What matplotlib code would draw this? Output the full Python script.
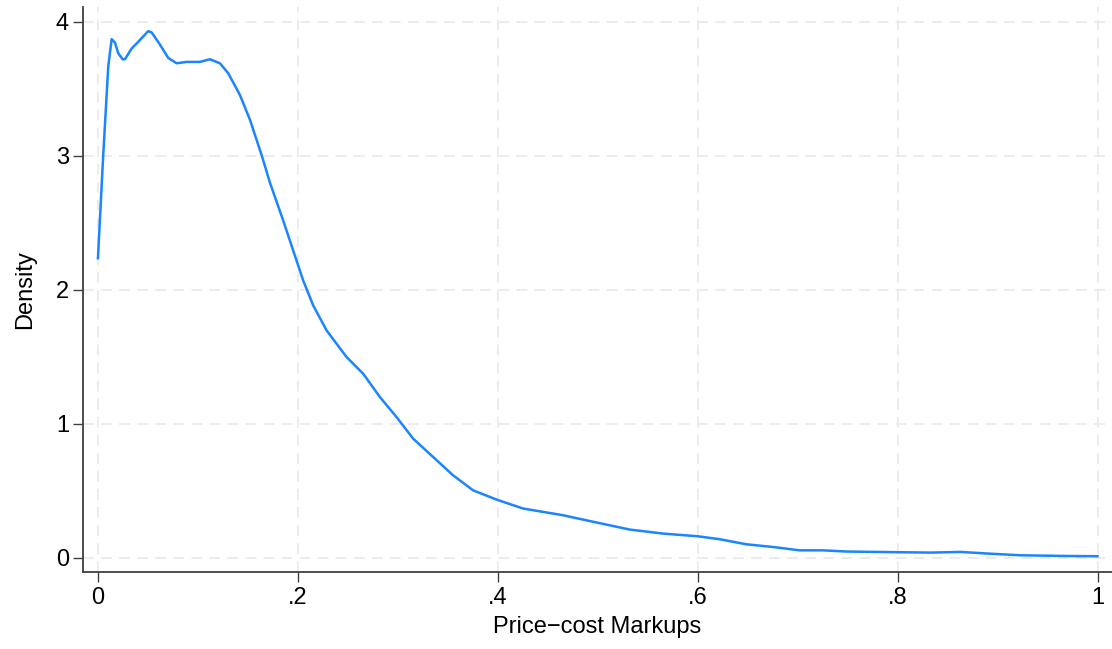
import matplotlib
matplotlib.use("Agg")
import matplotlib.pyplot as plt

# kernel density of price-cost markups
markup = [0.0, 0.005, 0.0103, 0.0137, 0.017, 0.0203, 0.0247, 0.027, 0.0337,
          0.0403, 0.0503, 0.0537, 0.062, 0.0703, 0.0787, 0.0887, 0.102, 0.112,
          0.122, 0.1303, 0.142, 0.152, 0.1637, 0.172, 0.1853, 0.1953, 0.2053,
          0.2153, 0.2287, 0.2487, 0.2653, 0.282, 0.2987, 0.3153, 0.3353,
          0.3553, 0.3753, 0.3987, 0.4253, 0.4653, 0.4887, 0.532, 0.5653, 0.6,
          0.622, 0.6487, 0.6753, 0.702, 0.7253, 0.7487, 0.8, 0.833, 0.863,
          0.89, 0.923, 0.966, 1.0]
density = [2.235, 2.965, 3.665, 3.87, 3.845, 3.765, 3.72, 3.72, 3.80, 3.85,
           3.93, 3.92, 3.83, 3.73, 3.69, 3.70, 3.70, 3.72, 3.69, 3.616, 3.454,
           3.27, 3.006, 2.80, 2.517, 2.293, 2.069, 1.883, 1.696, 1.497, 1.373,
           1.199, 1.049, 0.888, 0.751, 0.614, 0.502, 0.433, 0.366, 0.316,
           0.278, 0.209, 0.179, 0.159, 0.137, 0.099, 0.079, 0.054, 0.054,
           0.045, 0.040, 0.037, 0.042, 0.030, 0.017, 0.012, 0.010]

xticks = [0, 0.2, 0.4, 0.6, 0.8, 1.0]
xtick_labels = ["0", ".2", ".4", ".6", ".8", "1"]
yticks = [0, 1, 2, 3, 4]

plt.rcParams["font.family"] = ["Liberation Sans", "DejaVu Sans"]

fig = plt.figure(figsize=(11.12, 6.49), dpi=100)
ax = fig.add_axes([0.0746, 0.1186, 0.9254, 0.8706])

ax.plot(markup, density, color="#1a85ff", lw=1.8, solid_joinstyle="round")

ax.set_xlim(-0.015, 1.0145)
ax.set_ylim(-0.108, 4.11)
ax.set_xticks(xticks)
ax.set_xticklabels(xtick_labels)
ax.set_yticks(yticks)

ax.grid(True, color="#ebebeb", lw=1.3, linestyle=(0, (6, 4)))
ax.set_axisbelow(True)

for side in ["top", "right"]:
    ax.spines[side].set_visible(False)
for side in ["left", "bottom"]:
    ax.spines[side].set_color("#404040")
    ax.spines[side].set_linewidth(1.3)

ax.tick_params(axis="both", direction="out", length=7, width=1,
               color="#404040", labelsize=17)
ax.tick_params(axis="y", pad=3)
ax.tick_params(axis="x", pad=4)

ax.set_xlabel("Price\u2212cost Markups", fontsize=17, labelpad=5)
ax.set_ylabel("Density", fontsize=17, labelpad=14)

fig.savefig("out.png", dpi=100)
